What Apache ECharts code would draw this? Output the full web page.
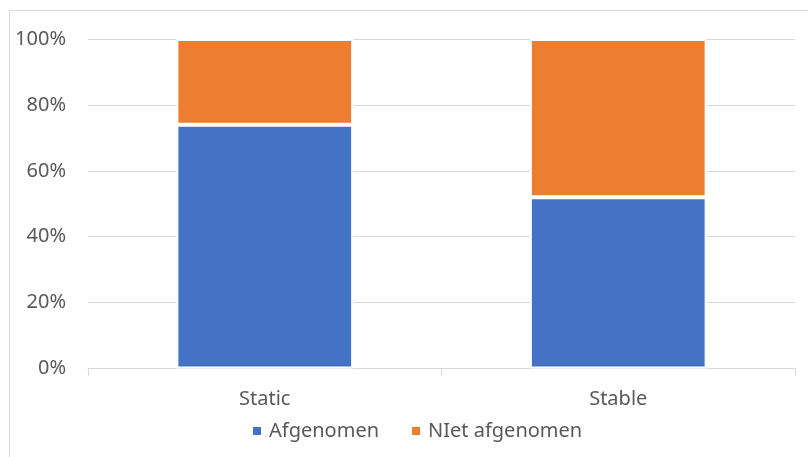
<!DOCTYPE html>
<html>
<head>
<meta charset="utf-8">
<script src="https://cdn.jsdelivr.net/npm/echarts@6/dist/echarts.min.js"></script>
<style>
html,body{margin:0;padding:0;background:#fff;}
#c{width:808px;height:457px;}
</style>
</head>
<body>
<div id="c"></div>
<script>
const categories = ['Static', 'Stable'];
const afgenomen = [74, 52];
const nietAfgenomen = [26, 48];
const seriesNames = ['Afgenomen', 'NIet afgenomen'];

const chart = echarts.init(document.getElementById('c'));
const font = 'Noto Sans';
const txt = '#595959';
chart.setOption({
  animation: false,
  backgroundColor: '#fff',
  graphic: [{
    type: 'rect',
    shape: {x: 9.5, y: 10.5, width: 830, height: 470},
    style: {fill: 'none', stroke: '#d9d9d9', lineWidth: 1},
    silent: true
  }],
  grid: {left: 88, right: 13, top: 39, bottom: 88.5},
  legend: {
    data: seriesNames,
    top: 416,
    left: 246,
    icon: 'rect',
    itemWidth: 10,
    itemHeight: 10,
    itemGap: 31,
    textStyle: {fontFamily: font, fontSize: 20, color: txt, padding: [0, 0, 0, 2]}
  },
  xAxis: {
    type: 'category',
    data: categories,
    axisLine: {lineStyle: {color: '#d9d9d9', width: 1}},
    axisTick: {show: true, length: 7, lineStyle: {color: '#d9d9d9'}},
    axisLabel: {fontFamily: font, fontSize: 20, color: txt, margin: 21}
  },
  yAxis: {
    type: 'value',
    min: 0, max: 100, interval: 20,
    axisLine: {show: false},
    axisTick: {show: false},
    splitLine: {lineStyle: {color: '#d9d9d9', width: 1}},
    axisLabel: {fontFamily: font, fontSize: 20, color: txt, margin: 22, formatter: '{value}%'}
  },
  series: [
    {
      name: seriesNames[0], type: 'bar', stack: 'a', data: afgenomen, barWidth: '50%',
      itemStyle: {color: '#4472C4', borderColor: '#fff', borderWidth: 2}
    },
    {
      name: seriesNames[1], type: 'bar', stack: 'a', data: nietAfgenomen, barWidth: '50%',
      itemStyle: {color: '#ED7D31', borderColor: '#fff', borderWidth: 2}
    }
  ]
});
</script>
</body>
</html>
